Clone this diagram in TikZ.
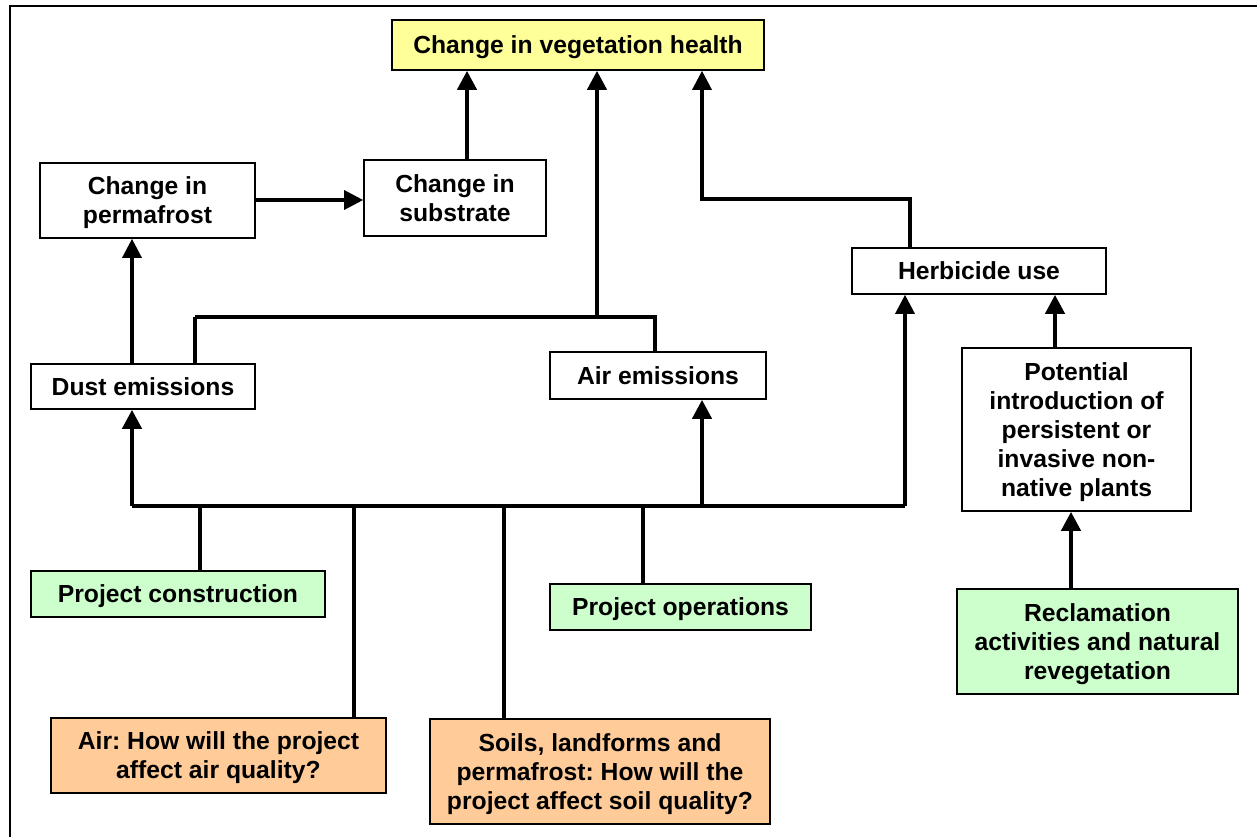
\documentclass[tikz,border=0pt]{standalone}
\usepackage{fontspec}
\setmainfont{Liberation Sans}
\usetikzlibrary{arrows.meta}
\definecolor{vegyellow}{HTML}{FFFF99}
\definecolor{srcgreen}{HTML}{CCFFCC}
\definecolor{qorange}{HTML}{FFCC99}
\tikzset{
  box/.style={draw=black, line width=1.6pt, rectangle, inner sep=0pt, align=center,
    text depth=-3pt, font=\frenchspacing\bfseries\fontsize{24.7}{29}\selectfont},
  plainbox/.style={box, fill=white},
  yelbox/.style={box, fill=vegyellow},
  grnbox/.style={box, fill=srcgreen},
  orgbox/.style={box, fill=qorange},
  arr/.style={-{Triangle[width=19pt,length=19pt]}},
  thk/.style={line width=4.2pt},
  thn/.style={line width=3.2pt},
}
\begin{document}
\begin{tikzpicture}[x=1pt,y=-1pt]
\useasboundingbox (0,0) rectangle (1257,836);
% frame
\draw[line width=2pt] (10,850) -- (10,6) -- (1270,6);
% nodes
\node[yelbox, minimum width=372pt, minimum height=50pt] (veg) at (578,45) {Change in vegetation health};
\node[plainbox, minimum width=215pt, minimum height=75pt] (perm) at (147.5,200.5) {Change in\\permafrost};
\node[plainbox, minimum width=182pt, minimum height=76pt] (subs) at (455,198) {Change in\\substrate};
\node[plainbox, minimum width=254pt, minimum height=46pt] (herb) at (979,271) {Herbicide use};
\node[plainbox, minimum width=229pt, minimum height=163pt] (pot) at (1076.5,429.5) {Potential\\introduction of\\persistent or\\invasive non-\\native plants};
\node[plainbox, minimum width=224pt, minimum height=45pt] (dust) at (143,386.5) {Dust emissions};
\node[plainbox, minimum width=216pt, minimum height=47pt] (airem) at (658,375.5) {Air emissions};
\node[grnbox, minimum width=294pt, minimum height=46pt] (pc) at (178,594) {Project construction};
\node[grnbox, minimum width=261pt, minimum height=46pt] (po) at (680.5,607) {Project operations};
\node[grnbox, minimum width=281pt, minimum height=105pt] (recl) at (1097.5,641.5) {Reclamation\\activities and natural\\revegetation};
\node[orgbox, minimum width=335pt, minimum height=75pt] (airq) at (218.5,755.5) {Air: How will the project\\affect air quality?};
\node[orgbox, minimum width=340pt, minimum height=105pt] (soils) at (600,771.5) {Soils, landforms and\\permafrost: How will the\\project affect soil quality?};
% junction coordinates
\coordinate (busL) at (132,506);
\coordinate (busR) at (905,506);
\coordinate (emL) at (195,317);
\coordinate (emR) at (655,317);
\coordinate (herbJ) at (702,199);
% connectors
\draw[thn,arr] (perm.east |- 0,200) -- (subs.west |- 0,200);
\draw[thk,arr] (467,0 |- subs.north) -- (467,0 |- veg.south);
\draw[thn,arr] (132,0 |- dust.north) -- (132,0 |- perm.south);
\draw[thn] (195,0 |- dust.north) -- (emL);
\draw[thk] (emL) -- (emR) -- (655,0 |- airem.north);
\draw[thk,arr] (597,317) -- (597,0 |- veg.south);
\draw[thn,arr] (910,0 |- herb.north) -- (910,199) -- (herbJ) -- (702,0 |- veg.south);
\draw[thk] (busL) -- (busR);
\draw[thk,arr] (busL) -- (132,0 |- dust.south);
\draw[thk,arr] (702,506) -- (702,0 |- airem.south);
\draw[thn,arr] (busR) -- (905,0 |- herb.south);
\draw[thn] (200,0 |- pc.north) -- (200,506);
\draw[thk] (354,0 |- airq.north) -- (354,506);
\draw[thk] (504,0 |- soils.north) -- (504,506);
\draw[thk] (643,0 |- po.north) -- (643,506);
\draw[thk,arr] (1055,0 |- pot.north) -- (1055,0 |- herb.south);
\draw[thk,arr] (1071,0 |- recl.north) -- (1071,0 |- pot.south);
\end{tikzpicture}
\end{document}
